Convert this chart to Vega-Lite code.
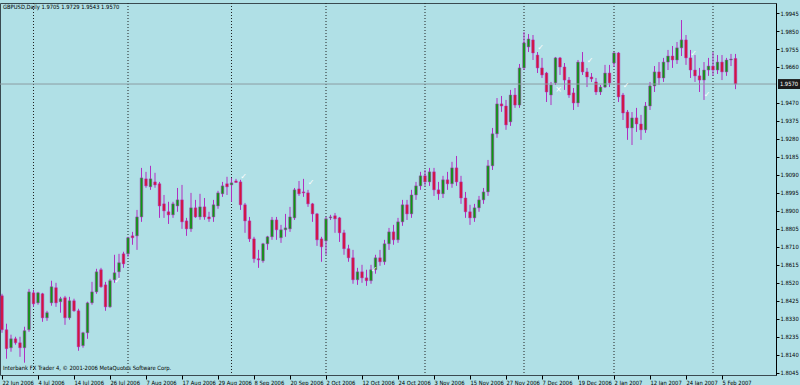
{
  "$schema": "https://vega.github.io/schema/vega-lite/v6.json",
  "width": 776,
  "height": 372,
  "autosize": {"type": "none"},
  "padding": {"left": 0, "top": 3, "right": 24, "bottom": 10},
  "background": "#b0e0e6",
  "config": {
    "view": {"stroke": "#3a4a50", "strokeWidth": 1, "fill": "#b0e0e6"},
    "font": "Liberation Sans Narrow, DejaVu Sans Condensed, sans-serif",
    "axis": {"labelFont": "Liberation Sans Narrow, DejaVu Sans Condensed, sans-serif", "labelFontSize": 5.8, "labelColor": "#000000", "tickColor": "#000000", "domainColor": "#000000", "grid": false, "title": null, "labelOverlap": false},
    "text": {"fontSize": 5.8}
  },
  "datasets": {
    "bars": [
      {"d":"2006-06-22","o":1.8451,"h":1.8462,"l":1.8256,"c":1.8272},
      {"d":"2006-06-23","o":1.8272,"h":1.8304,"l":1.8119,"c":1.8172},
      {"d":"2006-06-26","o":1.8177,"h":1.8246,"l":1.8156,"c":1.8224},
      {"d":"2006-06-27","o":1.8224,"h":1.8235,"l":1.8193,"c":1.8203},
      {"d":"2006-06-28","o":1.8203,"h":1.8235,"l":1.8129,"c":1.8177},
      {"d":"2006-06-29","o":1.8177,"h":1.8288,"l":1.8098,"c":1.8267},
      {"d":"2006-06-30","o":1.8272,"h":1.8488,"l":1.8261,"c":1.8472},
      {"d":"2006-07-03","o":1.8467,"h":1.8483,"l":1.8393,"c":1.8409},
      {"d":"2006-07-04","o":1.8414,"h":1.8472,"l":1.8404,"c":1.8467},
      {"d":"2006-07-05","o":1.8462,"h":1.8467,"l":1.8314,"c":1.8335},
      {"d":"2006-07-06","o":1.8335,"h":1.8372,"l":1.8319,"c":1.8362},
      {"d":"2006-07-07","o":1.8414,"h":1.8531,"l":1.8399,"c":1.8499},
      {"d":"2006-07-10","o":1.8494,"h":1.8520,"l":1.8393,"c":1.8414},
      {"d":"2006-07-11","o":1.8420,"h":1.8446,"l":1.8362,"c":1.8436},
      {"d":"2006-07-12","o":1.8441,"h":1.8451,"l":1.8298,"c":1.8335},
      {"d":"2006-07-13","o":1.8335,"h":1.8446,"l":1.8325,"c":1.8425},
      {"d":"2006-07-14","o":1.8425,"h":1.8436,"l":1.8367,"c":1.8372},
      {"d":"2006-07-17","o":1.8372,"h":1.8383,"l":1.8161,"c":1.8182},
      {"d":"2006-07-18","o":1.8188,"h":1.8261,"l":1.8177,"c":1.8256},
      {"d":"2006-07-19","o":1.8256,"h":1.8420,"l":1.8224,"c":1.8414},
      {"d":"2006-07-20","o":1.8414,"h":1.8525,"l":1.8404,"c":1.8472},
      {"d":"2006-07-21","o":1.8472,"h":1.8594,"l":1.8462,"c":1.8578},
      {"d":"2006-07-24","o":1.8589,"h":1.8599,"l":1.8494,"c":1.8499},
      {"d":"2006-07-25","o":1.8509,"h":1.8525,"l":1.8372,"c":1.8393},
      {"d":"2006-07-26","o":1.8393,"h":1.8541,"l":1.8388,"c":1.8531},
      {"d":"2006-07-27","o":1.8536,"h":1.8668,"l":1.8520,"c":1.8573},
      {"d":"2006-07-28","o":1.8578,"h":1.8673,"l":1.8546,"c":1.8626},
      {"d":"2006-07-31","o":1.8673,"h":1.8684,"l":1.8599,"c":1.8620},
      {"d":"2006-08-01","o":1.8673,"h":1.8763,"l":1.8657,"c":1.8758},
      {"d":"2006-08-02","o":1.8768,"h":1.8789,"l":1.8721,"c":1.8758},
      {"d":"2006-08-03","o":1.8768,"h":1.8905,"l":1.8694,"c":1.8868},
      {"d":"2006-08-04","o":1.8868,"h":1.9127,"l":1.8842,"c":1.9074},
      {"d":"2006-08-07","o":1.9069,"h":1.9106,"l":1.9022,"c":1.9032},
      {"d":"2006-08-08","o":1.9027,"h":1.9138,"l":1.9011,"c":1.9069},
      {"d":"2006-08-09","o":1.9053,"h":1.9101,"l":1.9022,"c":1.9037},
      {"d":"2006-08-10","o":1.9043,"h":1.9053,"l":1.8863,"c":1.8926},
      {"d":"2006-08-11","o":1.8937,"h":1.8984,"l":1.8863,"c":1.8900},
      {"d":"2006-08-14","o":1.8895,"h":1.8948,"l":1.8831,"c":1.8879},
      {"d":"2006-08-15","o":1.8879,"h":1.8948,"l":1.8863,"c":1.8937},
      {"d":"2006-08-16","o":1.8926,"h":1.9021,"l":1.8895,"c":1.8958},
      {"d":"2006-08-17","o":1.8958,"h":1.9037,"l":1.8805,"c":1.8842},
      {"d":"2006-08-18","o":1.8847,"h":1.8863,"l":1.8768,"c":1.8805},
      {"d":"2006-08-21","o":1.8805,"h":1.8995,"l":1.8789,"c":1.8916},
      {"d":"2006-08-22","o":1.8916,"h":1.8958,"l":1.8863,"c":1.8868},
      {"d":"2006-08-23","o":1.8868,"h":1.8990,"l":1.8853,"c":1.8921},
      {"d":"2006-08-24","o":1.8921,"h":1.8968,"l":1.8853,"c":1.8868},
      {"d":"2006-08-25","o":1.8868,"h":1.8895,"l":1.8842,"c":1.8858},
      {"d":"2006-08-28","o":1.8868,"h":1.8958,"l":1.8842,"c":1.8932},
      {"d":"2006-08-29","o":1.8926,"h":1.9006,"l":1.8911,"c":1.8995},
      {"d":"2006-08-30","o":1.8990,"h":1.9053,"l":1.8974,"c":1.9032},
      {"d":"2006-08-31","o":1.9043,"h":1.9080,"l":1.8984,"c":1.9027},
      {"d":"2006-09-01","o":1.9037,"h":1.9074,"l":1.8948,"c":1.9048},
      {"d":"2006-09-04","o":1.9058,"h":1.9069,"l":1.9048,"c":1.9050},
      {"d":"2006-09-05","o":1.9053,"h":1.9064,"l":1.8905,"c":1.8932},
      {"d":"2006-09-06","o":1.8932,"h":1.8942,"l":1.8784,"c":1.8847},
      {"d":"2006-09-07","o":1.8847,"h":1.8868,"l":1.8736,"c":1.8752},
      {"d":"2006-09-08","o":1.8752,"h":1.8763,"l":1.8626,"c":1.8647},
      {"d":"2006-09-11","o":1.8647,"h":1.8694,"l":1.8599,"c":1.8641},
      {"d":"2006-09-12","o":1.8636,"h":1.8731,"l":1.8626,"c":1.8726},
      {"d":"2006-09-13","o":1.8726,"h":1.8768,"l":1.8694,"c":1.8763},
      {"d":"2006-09-14","o":1.8763,"h":1.8868,"l":1.8747,"c":1.8852},
      {"d":"2006-09-15","o":1.8852,"h":1.8868,"l":1.8747,"c":1.8800},
      {"d":"2006-09-18","o":1.8758,"h":1.8826,"l":1.8731,"c":1.8800},
      {"d":"2006-09-19","o":1.8800,"h":1.8884,"l":1.8763,"c":1.8810},
      {"d":"2006-09-20","o":1.8805,"h":1.8921,"l":1.8789,"c":1.8868},
      {"d":"2006-09-21","o":1.8863,"h":1.9021,"l":1.8852,"c":1.9011},
      {"d":"2006-09-22","o":1.9016,"h":1.9058,"l":1.8979,"c":1.8990},
      {"d":"2006-09-25","o":1.9000,"h":1.9069,"l":1.8974,"c":1.8995},
      {"d":"2006-09-26","o":1.8995,"h":1.9011,"l":1.8921,"c":1.8937},
      {"d":"2006-09-27","o":1.8937,"h":1.8942,"l":1.8842,"c":1.8884},
      {"d":"2006-09-28","o":1.8884,"h":1.8889,"l":1.8715,"c":1.8747},
      {"d":"2006-09-29","o":1.8752,"h":1.8763,"l":1.8631,"c":1.8710},
      {"d":"2006-10-02","o":1.8742,"h":1.8868,"l":1.8668,"c":1.8858},
      {"d":"2006-10-03","o":1.8863,"h":1.8879,"l":1.8852,"c":1.8868},
      {"d":"2006-10-04","o":1.8874,"h":1.8889,"l":1.8784,"c":1.8858},
      {"d":"2006-10-05","o":1.8863,"h":1.8868,"l":1.8736,"c":1.8784},
      {"d":"2006-10-06","o":1.8784,"h":1.8800,"l":1.8668,"c":1.8700},
      {"d":"2006-10-09","o":1.8700,"h":1.8721,"l":1.8631,"c":1.8652},
      {"d":"2006-10-10","o":1.8652,"h":1.8694,"l":1.8515,"c":1.8536},
      {"d":"2006-10-11","o":1.8536,"h":1.8599,"l":1.8509,"c":1.8578},
      {"d":"2006-10-12","o":1.8578,"h":1.8615,"l":1.8520,"c":1.8546},
      {"d":"2006-10-13","o":1.8546,"h":1.8589,"l":1.8504,"c":1.8531},
      {"d":"2006-10-16","o":1.8531,"h":1.8615,"l":1.8515,"c":1.8589},
      {"d":"2006-10-17","o":1.8589,"h":1.8668,"l":1.8568,"c":1.8652},
      {"d":"2006-10-18","o":1.8652,"h":1.8694,"l":1.8610,"c":1.8631},
      {"d":"2006-10-19","o":1.8631,"h":1.8747,"l":1.8615,"c":1.8726},
      {"d":"2006-10-20","o":1.8726,"h":1.8810,"l":1.8694,"c":1.8789},
      {"d":"2006-10-23","o":1.8789,"h":1.8826,"l":1.8721,"c":1.8747},
      {"d":"2006-10-24","o":1.8747,"h":1.8863,"l":1.8731,"c":1.8842},
      {"d":"2006-10-25","o":1.8842,"h":1.8958,"l":1.8821,"c":1.8932},
      {"d":"2006-10-26","o":1.8932,"h":1.8958,"l":1.8852,"c":1.8884},
      {"d":"2006-10-27","o":1.8884,"h":1.9011,"l":1.8863,"c":1.8984},
      {"d":"2006-10-30","o":1.8984,"h":1.9053,"l":1.8958,"c":1.9032},
      {"d":"2006-10-31","o":1.9032,"h":1.9106,"l":1.9011,"c":1.9085},
      {"d":"2006-11-01","o":1.9085,"h":1.9116,"l":1.9032,"c":1.9053},
      {"d":"2006-11-02","o":1.9053,"h":1.9127,"l":1.9032,"c":1.9106},
      {"d":"2006-11-03","o":1.9106,"h":1.9127,"l":1.8979,"c":1.9011},
      {"d":"2006-11-06","o":1.9011,"h":1.9053,"l":1.8958,"c":1.8990},
      {"d":"2006-11-07","o":1.8990,"h":1.9085,"l":1.8968,"c":1.9064},
      {"d":"2006-11-08","o":1.9064,"h":1.9106,"l":1.9011,"c":1.9043},
      {"d":"2006-11-09","o":1.9043,"h":1.9159,"l":1.9022,"c":1.9127},
      {"d":"2006-11-10","o":1.9127,"h":1.9190,"l":1.9032,"c":1.9053},
      {"d":"2006-11-13","o":1.9053,"h":1.9085,"l":1.8937,"c":1.8968},
      {"d":"2006-11-14","o":1.8968,"h":1.9000,"l":1.8863,"c":1.8895},
      {"d":"2006-11-15","o":1.8895,"h":1.8932,"l":1.8826,"c":1.8863},
      {"d":"2006-11-16","o":1.8863,"h":1.8937,"l":1.8842,"c":1.8916},
      {"d":"2006-11-17","o":1.8916,"h":1.8979,"l":1.8895,"c":1.8958},
      {"d":"2006-11-20","o":1.8958,"h":1.9021,"l":1.8937,"c":1.9000},
      {"d":"2006-11-21","o":1.9000,"h":1.9169,"l":1.8979,"c":1.9138},
      {"d":"2006-11-22","o":1.9138,"h":1.9338,"l":1.9116,"c":1.9307},
      {"d":"2006-11-23","o":1.9307,"h":1.9496,"l":1.9286,"c":1.9465},
      {"d":"2006-11-24","o":1.9465,"h":1.9507,"l":1.9423,"c":1.9454},
      {"d":"2006-11-27","o":1.9454,"h":1.9486,"l":1.9328,"c":1.9354},
      {"d":"2006-11-28","o":1.9370,"h":1.9539,"l":1.9349,"c":1.9512},
      {"d":"2006-11-29","o":1.9512,"h":1.9549,"l":1.9444,"c":1.9459},
      {"d":"2006-11-30","o":1.9459,"h":1.9676,"l":1.9444,"c":1.9655},
      {"d":"2006-12-01","o":1.9655,"h":1.9845,"l":1.9644,"c":1.9787},
      {"d":"2006-12-04","o":1.9766,"h":1.9834,"l":1.9739,"c":1.9808},
      {"d":"2006-12-05","o":1.9803,"h":1.9829,"l":1.9697,"c":1.9734},
      {"d":"2006-12-06","o":1.9723,"h":1.9739,"l":1.9628,"c":1.9655},
      {"d":"2006-12-07","o":1.9655,"h":1.9708,"l":1.9602,"c":1.9618},
      {"d":"2006-12-08","o":1.9628,"h":1.9634,"l":1.9475,"c":1.9528},
      {"d":"2006-12-11","o":1.9512,"h":1.9581,"l":1.9459,"c":1.9565},
      {"d":"2006-12-12","o":1.9576,"h":1.9713,"l":1.9565,"c":1.9708},
      {"d":"2006-12-13","o":1.9708,"h":1.9713,"l":1.9618,"c":1.9660},
      {"d":"2006-12-14","o":1.9660,"h":1.9681,"l":1.9539,"c":1.9591},
      {"d":"2006-12-15","o":1.9591,"h":1.9607,"l":1.9497,"c":1.9512},
      {"d":"2006-12-18","o":1.9523,"h":1.9549,"l":1.9433,"c":1.9470},
      {"d":"2006-12-19","o":1.9470,"h":1.9697,"l":1.9449,"c":1.9686},
      {"d":"2006-12-20","o":1.9686,"h":1.9739,"l":1.9618,"c":1.9634},
      {"d":"2006-12-21","o":1.9634,"h":1.9655,"l":1.9554,"c":1.9607},
      {"d":"2006-12-22","o":1.9607,"h":1.9628,"l":1.9581,"c":1.9597},
      {"d":"2006-12-26","o":1.9581,"h":1.9602,"l":1.9512,"c":1.9528},
      {"d":"2006-12-27","o":1.9528,"h":1.9565,"l":1.9512,"c":1.9554},
      {"d":"2006-12-28","o":1.9554,"h":1.9671,"l":1.9549,"c":1.9628},
      {"d":"2006-12-29","o":1.9628,"h":1.9671,"l":1.9554,"c":1.9576},
      {"d":"2007-01-02","o":1.9681,"h":1.9739,"l":1.9660,"c":1.9734},
      {"d":"2007-01-03","o":1.9734,"h":1.9739,"l":1.9475,"c":1.9502},
      {"d":"2007-01-04","o":1.9512,"h":1.9523,"l":1.9380,"c":1.9417},
      {"d":"2007-01-05","o":1.9422,"h":1.9433,"l":1.9275,"c":1.9338},
      {"d":"2007-01-08","o":1.9338,"h":1.9422,"l":1.9248,"c":1.9391},
      {"d":"2007-01-09","o":1.9391,"h":1.9444,"l":1.9317,"c":1.9359},
      {"d":"2007-01-10","o":1.9359,"h":1.9407,"l":1.9275,"c":1.9328},
      {"d":"2007-01-11","o":1.9328,"h":1.9475,"l":1.9312,"c":1.9454},
      {"d":"2007-01-12","o":1.9454,"h":1.9581,"l":1.9433,"c":1.9560},
      {"d":"2007-01-15","o":1.9560,"h":1.9665,"l":1.9528,"c":1.9634},
      {"d":"2007-01-16","o":1.9634,"h":1.9686,"l":1.9565,"c":1.9602},
      {"d":"2007-01-17","o":1.9602,"h":1.9708,"l":1.9581,"c":1.9686},
      {"d":"2007-01-18","o":1.9686,"h":1.9750,"l":1.9644,"c":1.9718},
      {"d":"2007-01-19","o":1.9718,"h":1.9771,"l":1.9655,"c":1.9697},
      {"d":"2007-01-22","o":1.9697,"h":1.9792,"l":1.9676,"c":1.9761},
      {"d":"2007-01-23","o":1.9761,"h":1.9908,"l":1.9718,"c":1.9803},
      {"d":"2007-01-24","o":1.9803,"h":1.9829,"l":1.9671,"c":1.9708},
      {"d":"2007-01-25","o":1.9708,"h":1.9750,"l":1.9602,"c":1.9644},
      {"d":"2007-01-26","o":1.9644,"h":1.9723,"l":1.9581,"c":1.9613},
      {"d":"2007-01-29","o":1.9613,"h":1.9655,"l":1.9528,"c":1.9591},
      {"d":"2007-01-30","o":1.9591,"h":1.9686,"l":1.9486,"c":1.9644},
      {"d":"2007-01-31","o":1.9644,"h":1.9708,"l":1.9613,"c":1.9665},
      {"d":"2007-02-01","o":1.9665,"h":1.9739,"l":1.9613,"c":1.9644},
      {"d":"2007-02-02","o":1.9644,"h":1.9723,"l":1.9623,"c":1.9686},
      {"d":"2007-02-05","o":1.9686,"h":1.9723,"l":1.9591,"c":1.9634},
      {"d":"2007-02-06","o":1.9634,"h":1.9708,"l":1.9613,"c":1.9697},
      {"d":"2007-02-07","o":1.9697,"h":1.9729,"l":1.9665,"c":1.9702},
      {"d":"2007-02-08","o":1.9705,"h":1.9729,"l":1.9543,"c":1.9570}
    ],
    "months": [
      {"d":"2006-07-03"},{"d":"2006-08-01"},{"d":"2006-09-01"},{"d":"2006-10-02"},
      {"d":"2006-11-01"},{"d":"2006-12-01"},{"d":"2007-01-02"},{"d":"2007-02-01"}
    ],
    "arrows": [
      {"d":"2006-07-27","p":1.8528,"s":"✓"},
      {"d":"2006-09-05","p":1.9080,"s":"✓"},
      {"d":"2006-09-26","p":1.9048,"s":"✓"},
      {"d":"2006-10-16","p":1.8589,"s":"✓"},
      {"d":"2006-12-06","p":1.9761,"s":"✓"},
      {"d":"2006-12-12","p":1.9539,"s":"×"},
      {"d":"2006-12-21","p":1.9692,"s":"✓"},
      {"d":"2007-01-04","p":1.9560,"s":"✓"},
      {"d":"2007-01-25","p":1.9729,"s":"✓"},
      {"d":"2007-01-30","p":1.9512,"s":"✓"}
    ]
  },
  "encoding": {
    "x": {
      "field": "d",
      "type": "ordinal",
      "scale": {"type": "point", "padding": 0, "range": [2, 735.5]},
      "axis": {
        "orient": "bottom",
        "values": ["2006-06-22","2006-07-04","2006-07-14","2006-07-26","2006-08-07","2006-08-17","2006-08-29","2006-09-08","2006-09-20","2006-10-02","2006-10-12","2006-10-24","2006-11-03","2006-11-15","2006-11-27","2006-12-07","2006-12-19","2007-01-02","2007-01-12","2007-01-24","2007-02-05"],
        "labelExpr": "utcFormat(toDate(datum.value), '%-d %b %Y')",
        "labelAlign": "left",
        "labelBaseline": "top",
        "labelAngle": 0,
        "labelPadding": 0,
        "labelOffset": 0,
        "tickSize": 4,
        "domain": false,
        "labelOverlap": false
      }
    }
  },
  "layer": [
    {
      "data": {"name": "months"},
      "mark": {"type": "rule", "color": "#202020", "strokeDash": [1, 2], "strokeWidth": 1},
      "encoding": {}
    },
    {
      "data": {"name": "bars"},
      "mark": {"type": "rule", "color": "#b030c0", "strokeWidth": 1},
      "encoding": {
        "y": {"field": "l", "type": "quantitative", "scale": {"domain": [1.8033, 1.9998], "nice": false, "zero": false},
          "axis": {"orient": "right", "values": [1.8045,1.814,1.8235,1.833,1.8425,1.852,1.8615,1.871,1.8805,1.89,1.8995,1.909,1.9185,1.928,1.9375,1.947,1.966,1.9755,1.985,1.9945], "format": ".4f", "tickSize": 3, "labelPadding": 1, "labelBaseline": "middle", "labelOverlap": false, "labelFlush": false}},
        "y2": {"field": "h"}
      }
    },
    {
      "data": {"name": "bars"},
      "mark": {"type": "bar", "size": 2.6, "stroke": "#b030c0", "strokeWidth": 0.5},
      "encoding": {
        "y": {"field": "o", "type": "quantitative",
          "axis": {"orient": "right", "values": [1.8045,1.814,1.8235,1.833,1.8425,1.852,1.8615,1.871,1.8805,1.89,1.8995,1.909,1.9185,1.928,1.9375,1.947,1.966,1.9755,1.985,1.9945], "format": ".4f", "tickSize": 3, "labelPadding": 1, "labelBaseline": "middle", "labelOverlap": false, "labelFlush": false}},
        "y2": {"field": "c"},
        "color": {"condition": {"test": "datum.c >= datum.o", "value": "#0c9a10"}, "value": "#d4143c"}
      }
    },
    {
      "data": {"name": "bars"},
      "transform": [{"filter": "datum.d == '2007-02-08'"}],
      "mark": {"type": "rule", "color": "#8c9ca2", "strokeWidth": 1},
      "encoding": {"x": null, "y": {"field": "c", "type": "quantitative",
        "axis": {"orient": "right", "values": [1.8045,1.814,1.8235,1.833,1.8425,1.852,1.8615,1.871,1.8805,1.89,1.8995,1.909,1.9185,1.928,1.9375,1.947,1.966,1.9755,1.985,1.9945], "format": ".4f", "tickSize": 3, "labelPadding": 1, "labelBaseline": "middle", "labelOverlap": false, "labelFlush": false}}}
    },
    {
      "data": {"name": "arrows"},
      "mark": {"type": "text", "color": "#ffffff", "font": "DejaVu Sans", "fontSize": 8, "align": "center", "baseline": "middle", "dx": 3},
      "encoding": {"y": {"field": "p", "type": "quantitative",
        "axis": {"orient": "right", "values": [1.8045,1.814,1.8235,1.833,1.8425,1.852,1.8615,1.871,1.8805,1.89,1.8995,1.909,1.9185,1.928,1.9375,1.947,1.966,1.9755,1.985,1.9945], "format": ".4f", "tickSize": 3, "labelPadding": 1, "labelBaseline": "middle", "labelOverlap": false, "labelFlush": false}}, "text": {"field": "s"}}
    },
    {
      "data": {"name": "bars"},
      "transform": [{"filter": "datum.d == '2007-02-08'"}],
      "mark": {"type": "point", "shape": "M-1,-0.45L1,-0.45L1,0.45L-1,0.45Z", "size": 484, "filled": true, "color": "#1c1c1c", "opacity": 1, "xOffset": 53.5},
      "encoding": {"y": {"field": "c", "type": "quantitative",
        "axis": {"orient": "right", "values": [1.8045,1.814,1.8235,1.833,1.8425,1.852,1.8615,1.871,1.8805,1.89,1.8995,1.909,1.9185,1.928,1.9375,1.947,1.966,1.9755,1.985,1.9945], "format": ".4f", "tickSize": 3, "labelPadding": 1, "labelBaseline": "middle", "labelOverlap": false, "labelFlush": false}}}
    },
    {
      "data": {"name": "bars"},
      "transform": [{"filter": "datum.d == '2007-02-08'"}],
      "mark": {"type": "text", "color": "#ffffff", "fontSize": 5.8, "align": "center", "baseline": "middle", "dx": 53.5},
      "encoding": {"y": {"field": "c", "type": "quantitative",
        "axis": {"orient": "right", "values": [1.8045,1.814,1.8235,1.833,1.8425,1.852,1.8615,1.871,1.8805,1.89,1.8995,1.909,1.9185,1.928,1.9375,1.947,1.966,1.9755,1.985,1.9945], "format": ".4f", "tickSize": 3, "labelPadding": 1, "labelBaseline": "middle", "labelOverlap": false, "labelFlush": false}}, "text": {"field": "c", "type": "quantitative", "format": ".4f"}}
    },
    {
      "data": {"name": "bars"},
      "transform": [{"filter": "datum.d == '2006-06-22'"}],
      "mark": {"type": "text", "color": "#000000", "fontSize": 5.8, "align": "left", "baseline": "middle", "dx": 1},
      "encoding": {"y": {"datum": 1.9977, "type": "quantitative",
        "axis": {"orient": "right", "values": [1.8045,1.814,1.8235,1.833,1.8425,1.852,1.8615,1.871,1.8805,1.89,1.8995,1.909,1.9185,1.928,1.9375,1.947,1.966,1.9755,1.985,1.9945], "format": ".4f", "tickSize": 3, "labelPadding": 1, "labelBaseline": "middle", "labelOverlap": false, "labelFlush": false}}, "text": {"value": "GBPUSD,Daily  1.9705 1.9729 1.9543 1.9570"}}
    },
    {
      "data": {"name": "bars"},
      "transform": [{"filter": "datum.d == '2006-06-22'"}],
      "mark": {"type": "text", "color": "#000000", "fontSize": 5.8, "align": "left", "baseline": "middle", "dx": 1},
      "encoding": {"y": {"datum": 1.8071, "type": "quantitative",
        "axis": {"orient": "right", "values": [1.8045,1.814,1.8235,1.833,1.8425,1.852,1.8615,1.871,1.8805,1.89,1.8995,1.909,1.9185,1.928,1.9375,1.947,1.966,1.9755,1.985,1.9945], "format": ".4f", "tickSize": 3, "labelPadding": 1, "labelBaseline": "middle", "labelOverlap": false, "labelFlush": false}}, "text": {"value": "Interbank FX Trader 4, © 2001-2006 MetaQuotes Software Corp."}}
    }
  ]
}
